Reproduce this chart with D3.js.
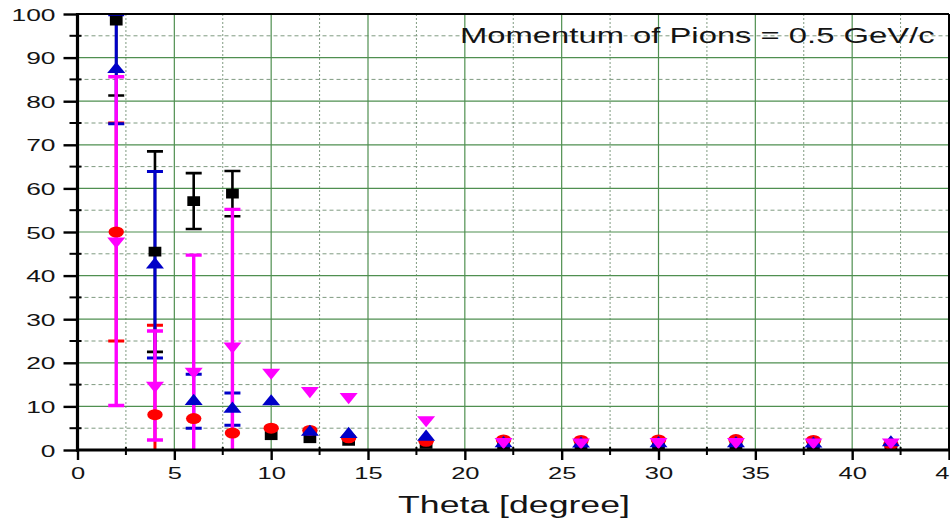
<!DOCTYPE html>
<html>
<head>
<meta charset="utf-8">
<script src="https://cdn.jsdelivr.net/npm/d3@7"></script>
<style>
  body { margin: 0; background: #fff; }
  svg { display: block; }
  text { font-family: "Liberation Sans", Arial, sans-serif; fill: #141414; }
</style>
</head>
<body>
<svg id="chart" width="950" height="525"></svg>
<script>
// Polar angle of the pions (degrees)
const theta = [2, 4, 6, 8, 10, 12, 14, 18, 22, 26, 30, 34, 38, 42];

// Four measurement sets with their uncertainties (0 = no bar drawn)
const blackVal   = [98.5, 45.5, 57.1, 58.8, 3.4, 2.7, 2.1, 1.4, 1.0, 1.0, 1.0, 1.0, 1.0, 1.0];
const blackErr   = [17.2, 23.0, 6.4, 5.2, 0, 0, 0, 0, 0, 0, 0, 0, 0, 0];
const redVal     = [50.0, 8.1, 7.2, 3.9, 5.0, 4.5, 2.8, 2.0, 2.3, 2.2, 2.3, 2.4, 2.2, 1.3];
const redErr     = [25.0, 20.5, 0, 0, 0, 0, 0, 0, 0, 0, 0, 0, 0, 0];
const blueVal    = [87.3, 42.5, 11.2, 9.4, 11.1, 4.1, 3.6, 3.0, 1.5, 1.4, 1.5, 1.5, 1.4, 1.7];
const blueErr    = [12.5, 21.4, 6.2, 3.7, 0, 0, 0, 0, 0, 0, 0, 0, 0, 0];
const magentaVal = [47.9, 14.8, 18.0, 23.8, 17.8, 13.6, 12.2, 6.9, 1.9, 1.8, 1.9, 1.9, 1.8, 1.8];
const magentaErr = [37.7, 12.5, 26.7, 31.4, 0, 0, 0, 0, 0, 0, 0, 0, 0, 0];

const xMajor = [0, 5, 10, 15, 20, 25, 30, 35, 40, 45];
const xMinor = [2.5, 7.5, 12.5, 17.5, 22.5, 27.5, 32.5, 37.5, 42.5];
const yMajor = [0, 10, 20, 30, 40, 50, 60, 70, 80, 90, 100];
const yMinor = [5, 15, 25, 35, 45, 55, 65, 75, 85, 95];

const annotation = "Momentum of Pions = 0.5 GeV/c";
const xTitle = "Theta [degree]";

const svg = d3.select("#chart");
const x = d3.scaleLinear().domain([0, 45]).range([77.5, 949]);
const y = d3.scaleLinear().domain([0, 100]).range([450, 14]);
const [x0, x1] = x.range();
const [y0, y1] = y.range();

// Glyphs in this figure are drawn wide; widen each label horizontally.
const WIDEN = 1.5;
function widen(sel, k = WIDEN) {
  sel.each(function () {
    const w = this.getComputedTextLength();
    this.setAttribute("textLength", w * k);
    this.setAttribute("lengthAdjust", "spacingAndGlyphs");
  });
}

// ---- grid ----
const grid = svg.append("g");
grid.selectAll(".gxm").data(xMinor).join("line")
  .attr("x1", d => x(d)).attr("x2", d => x(d)).attr("y1", y1).attr("y2", y0)
  .attr("stroke", "#7f9a80").attr("stroke-width", 1).attr("stroke-dasharray", "2,2");
grid.selectAll(".gym").data(yMinor).join("line")
  .attr("x1", x0).attr("x2", x1).attr("y1", d => y(d)).attr("y2", d => y(d))
  .attr("stroke", "#7f9a80").attr("stroke-width", 1).attr("stroke-dasharray", "4,3");
grid.selectAll(".gx").data(xMajor.slice(1, -1)).join("line")
  .attr("x1", d => x(d)).attr("x2", d => x(d)).attr("y1", y1).attr("y2", y0)
  .attr("stroke", "#4f8f50").attr("stroke-width", 1.2);
grid.selectAll(".gy").data(yMajor.slice(1, -1)).join("line")
  .attr("x1", x0).attr("x2", x1).attr("y1", d => y(d)).attr("y2", d => y(d))
  .attr("stroke", "#4f8f50").attr("stroke-width", 1.2);

// ---- data ----
svg.append("clipPath").attr("id", "plot")
  .append("rect").attr("x", x0).attr("y", y1).attr("width", x1 - x0).attr("height", y0 - y1);

const series = [
  { name: "black",   val: blackVal,   err: blackErr,   color: "#000000", lw: 2.6, shape: "square" },
  { name: "red",     val: redVal,     err: redErr,     color: "#ff0000", lw: 3.0, shape: "circle" },
  { name: "blue",    val: blueVal,    err: blueErr,    color: "#0000c8", lw: 3.0, shape: "up" },
  { name: "magenta", val: magentaVal, err: magentaErr, color: "#ff00ff", lw: 3.4, shape: "down" }
];

const plot = svg.append("g").attr("clip-path", "url(#plot)");
const CAP = 8;

// error bars first, markers on top
series.forEach(s => {
  const pts = theta.map((t, i) => ({ t, v: s.val[i], e: s.err[i] })).filter(d => d.e > 0);
  const g = plot.append("g").attr("stroke", s.color).attr("stroke-width", s.lw);
  g.selectAll(".stem").data(pts).join("line")
    .attr("x1", d => x(d.t)).attr("x2", d => x(d.t))
    .attr("y1", d => y(d.v - d.e)).attr("y2", d => y(d.v + d.e));
  g.selectAll(".capHi").data(pts).join("line")
    .attr("x1", d => x(d.t) - CAP).attr("x2", d => x(d.t) + CAP)
    .attr("y1", d => y(d.v + d.e)).attr("y2", d => y(d.v + d.e));
  g.selectAll(".capLo").data(pts).join("line")
    .attr("x1", d => x(d.t) - CAP).attr("x2", d => x(d.t) + CAP)
    .attr("y1", d => y(d.v - d.e)).attr("y2", d => y(d.v - d.e));
});

const symbolPath = {
  square: d3.symbol(d3.symbolSquare, 96)(),
  circle: d3.symbol(d3.symbolCircle, 95)(),
  up: d3.symbol(d3.symbolTriangle, 72)(),
  down: d3.symbol(d3.symbolTriangle, 72)()
};

series.forEach(s => {
  const pts = theta.map((t, i) => ({ t, v: s.val[i] }));
  plot.append("g").selectAll("path").data(pts).join("path")
    .attr("d", symbolPath[s.shape])
    .attr("fill", s.color)
    .attr("transform", d => `translate(${x(d.t)},${y(d.v)}) scale(${s.shape === "square" ? 1.3 : 1.4},1)` +
      (s.shape === "down" ? " rotate(180)" : ""));
});

// ---- frame ----
const frame = svg.append("g").attr("stroke", "#000").attr("fill", "none");
frame.append("line").attr("x1", x0).attr("x2", x1).attr("y1", y1).attr("y2", y1).attr("stroke-width", 2);
frame.append("line").attr("x1", x1).attr("x2", x1).attr("y1", y1).attr("y2", y0).attr("stroke-width", 2);

// ---- axes ----
const yAxis = svg.append("g").attr("transform", `translate(${x0},0)`)
  .call(d3.axisLeft(y).tickValues(yMajor).tickSize(14).tickPadding(8).tickFormat(d3.format("d")));
yAxis.select(".domain").remove();
yAxis.selectAll(".tick line").attr("stroke", "#000").attr("stroke-width", 2.4);
yAxis.selectAll(".tick text").attr("font-size", 17).attr("fill", "#141414").attr("dy", "0.36em")
  .call(widen, 1.55);

const xAxis = svg.append("g").attr("transform", `translate(0,${y0})`)
  .call(d3.axisBottom(x).tickValues(xMajor).tickSize(10).tickPadding(7).tickFormat(d3.format("d")));
xAxis.select(".domain").remove();
xAxis.selectAll(".tick line").attr("stroke", "#000").attr("stroke-width", 2.4);
xAxis.selectAll(".tick text").attr("font-size", 17).attr("fill", "#141414")
  .call(widen, 1.5);

// minor ticks crossing the axes
svg.append("g").selectAll("line").data(yMinor).join("line")
  .attr("x1", x0 - 8).attr("x2", x0 + 4).attr("y1", d => y(d)).attr("y2", d => y(d))
  .attr("stroke", "#000").attr("stroke-width", 2);
svg.append("g").selectAll("line").data(xMinor).join("line")
  .attr("x1", d => x(d)).attr("x2", d => x(d)).attr("y1", y0 - 3).attr("y2", y0 + 5)
  .attr("stroke", "#000").attr("stroke-width", 2);

// main axis lines
svg.append("line").attr("x1", x0).attr("x2", x0).attr("y1", y1 - 1).attr("y2", y0 + 1.5)
  .attr("stroke", "#000").attr("stroke-width", 3.2);
svg.append("line").attr("x1", x0 - 1.5).attr("x2", x1 + 1).attr("y1", y0).attr("y2", y0)
  .attr("stroke", "#000").attr("stroke-width", 3.2);

// ---- texts ----
svg.append("text").attr("x", 460).attr("y", 43).attr("font-size", 22)
  .text(annotation).call(widen, 1.49);
svg.append("text").attr("x", 514).attr("y", 513).attr("text-anchor", "middle").attr("font-size", 23)
  .text(xTitle).call(widen, 1.55);
</script>
</body>
</html>
